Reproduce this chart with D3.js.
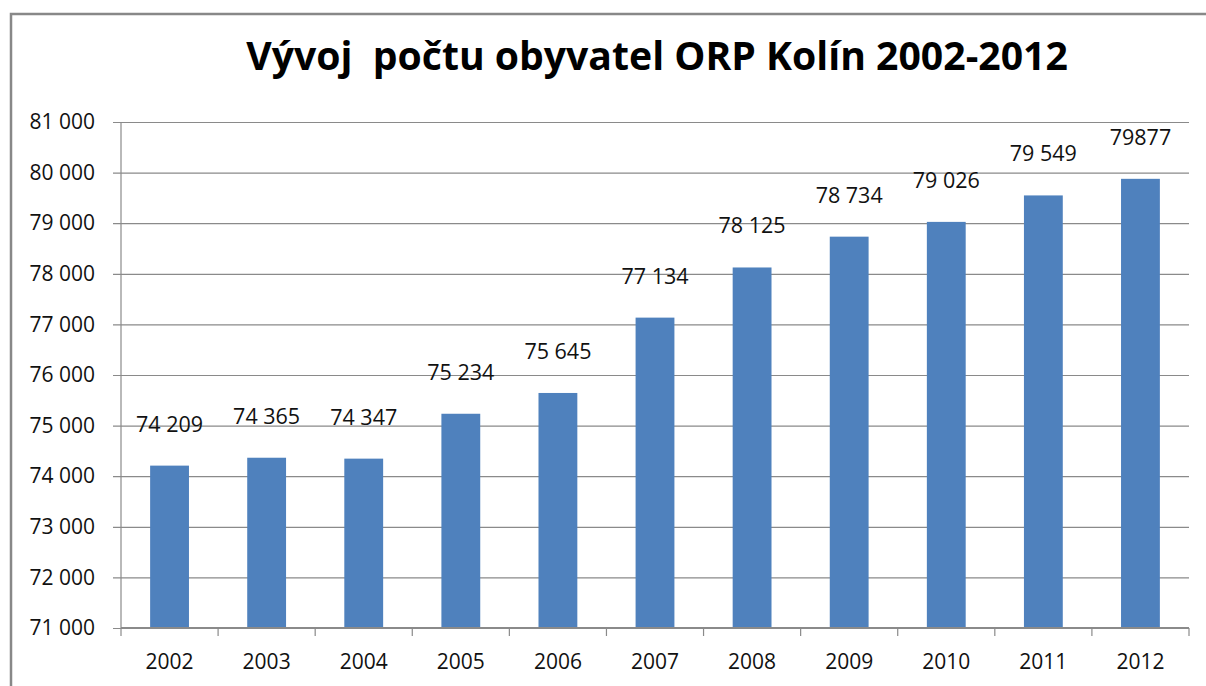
<!DOCTYPE html>
<html><head><meta charset="utf-8">
<script src="https://cdn.jsdelivr.net/npm/d3@7"></script>
<style>html,body{margin:0;padding:0;background:#fff;overflow:hidden}svg{display:block}</style>
</head><body>
<svg id="c" width="1206" height="686"></svg>
<script>
const title = "Vývoj  počtu obyvatel ORP Kolín 2002-2012";
const years = ["2002","2003","2004","2005","2006","2007","2008","2009","2010","2011","2012"];
const population = [74209,74365,74347,75234,75645,77134,78125,78734,79026,79549,79877];
const valueLabels = ["74 209","74 365","74 347","75 234","75 645","77 134","78 125","78 734","79 026","79 549","79877"];
const yTicks = [71000,72000,73000,74000,75000,76000,77000,78000,79000,80000,81000];

const svg = d3.select("#c");
const m = {left:121, right:1189, top:122, bottom:628};
const font = "'Open Sans', sans-serif";
const grid = "#8a8a8a";

// outer chart border
svg.append("rect").attr("x",11).attr("y",14).attr("width",1230).attr("height",720)
  .attr("fill","#fff").attr("stroke","#888").attr("stroke-width",2.5);

const x = d3.scaleBand().domain(years).range([m.left,m.right]).paddingInner(0.6).paddingOuter(0.3);
const xb = d3.scaleBand().domain(years).range([m.left,m.right]);
const y = d3.scaleLinear().domain([71000,81000]).range([m.bottom,m.top]);

const fmt = v => d3.format(",")(v).replace(/,/g," ");

// gridlines + y ticks
const yAxis = d3.axisLeft(y).tickValues(yTicks).tickSize(-(m.right-m.left)).tickPadding(18).tickFormat(fmt);
const gy = svg.append("g").attr("transform",`translate(${m.left},0)`).call(yAxis);
gy.select(".domain").remove();
gy.selectAll(".tick line").attr("stroke",grid).attr("stroke-width",1.2).attr("x1",-8);
gy.selectAll(".tick text").attr("font-family",font).attr("font-size",21).attr("fill","#111").attr("x",-26);
svg.append("line").attr("x1",m.left).attr("x2",m.left).attr("y1",m.top).attr("y2",m.bottom)
  .attr("stroke",grid).attr("stroke-width",1.2);

// bars
svg.append("g").selectAll("rect").data(population).join("rect")
  .attr("x",(d,i)=>x(years[i])).attr("width",x.bandwidth())
  .attr("y",d=>y(d)).attr("height",d=>y(71000)-y(d)).attr("fill","#4F81BD");

// x axis
svg.append("line").attr("x1",m.left).attr("x2",m.right).attr("y1",m.bottom).attr("y2",m.bottom)
  .attr("stroke",grid).attr("stroke-width",2);
const bounds = years.map(d=>xb(d)).concat([m.right]);
svg.append("g").selectAll("line").data(bounds).join("line")
  .attr("x1",d=>d).attr("x2",d=>d).attr("y1",m.bottom).attr("y2",m.bottom+8)
  .attr("stroke",grid).attr("stroke-width",1.2);
svg.append("g").selectAll("text").data(years).join("text")
  .attr("x",d=>xb(d)+xb.bandwidth()/2).attr("y",669)
  .attr("text-anchor","middle").attr("font-family",font).attr("font-size",21).attr("fill","#111")
  .text(d=>d);

// data labels
svg.append("g").selectAll("text").data(population).join("text")
  .attr("x",(d,i)=>xb(years[i])+xb.bandwidth()/2).attr("y",d=>y(d)-34)
  .attr("text-anchor","middle").attr("font-family",font).attr("font-size",21.5).attr("fill","#111")
  .text((d,i)=>valueLabels[i]);

// title
const t = svg.append("text").attr("x",657).attr("y",70).attr("text-anchor","middle")
  .attr("font-family",font).attr("font-weight","bold").attr("font-size",38).attr("fill","#000")
  .attr("xml:space","preserve").style("white-space","pre").text(title);
const tw = t.node().getComputedTextLength();
t.attr("font-size", 38*822/tw);
</script>
</body></html>
